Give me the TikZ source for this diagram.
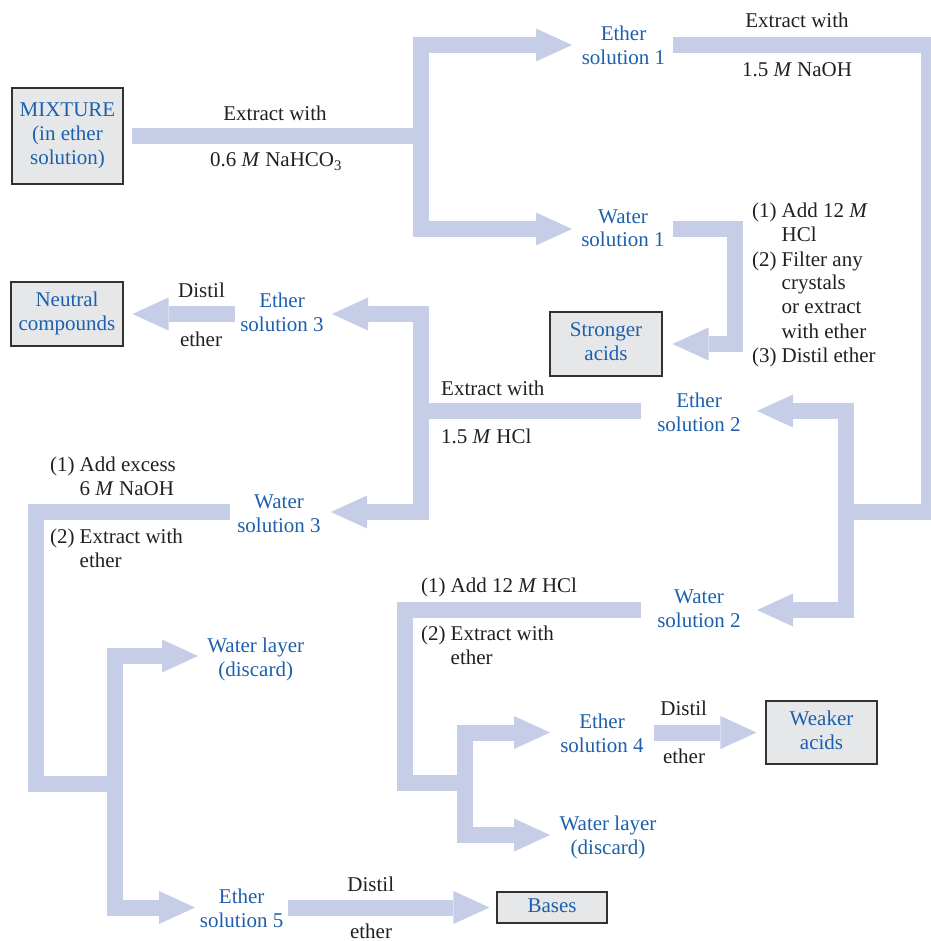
\documentclass[tikz,border=0pt]{standalone}
\usepackage{fontspec}
\setmainfont{Liberation Serif}
\usetikzlibrary{arrows.meta}

\definecolor{ductcol}{RGB}{198,205,230}
\definecolor{labelblue}{RGB}{28,96,172}
\definecolor{ink}{RGB}{35,31,32}
\definecolor{boxfill}{RGB}{230,231,233}
\definecolor{boxline}{RGB}{50,50,50}

% stacked lines; the baseline is that of the first line
\newcommand\stk[1]{\begin{tabular}[t]{@{}c@{}}#1\end{tabular}}
% numbered step with hanging lines
\newcommand\stepl[1]{\begin{tabular}[t]{@{}l@{\hspace{5pt}}l@{}}#1\end{tabular}}

\tikzset{
  basefont/.style={font=\fontsize{21}{24}\selectfont},
  txt/.style={basefont, text=ink, inner sep=0pt, anchor=base},
  sol/.style={txt, text=labelblue},
  resultbox/.style={basefont, draw=boxline, line width=1.1pt, fill=boxfill,
    text=labelblue, inner sep=0pt, anchor=center},
  duct/.style={draw=ductcol, line width=16pt, line join=miter, line cap=butt},
  ductend/.style={-{Triangle[length=36pt,width=33pt,line width=0pt]}},
  ductboth/.style={{Triangle[length=36pt,width=33pt,line width=0pt]}-{Triangle[length=36pt,width=33pt,line width=0pt]}},
}

\begin{document}
\begin{tikzpicture}[x=1pt,y=-1pt]
\useasboundingbox (0,0) rectangle (930,941);

% ---- result boxes ----
\node[resultbox, minimum width=111pt, minimum height=96pt] (mix) at (67.5,136)
  {\begin{tabular}{@{}c@{}}MIXTURE\\(in ether\\solution)\end{tabular}};
\node[resultbox, minimum width=112pt, minimum height=64pt] (neutral) at (67,314)
  {\begin{tabular}{@{}c@{}}Neutral\\compounds\end{tabular}};
\node[resultbox, minimum width=112pt, minimum height=64pt] (strong) at (606,344)
  {\begin{tabular}{@{}c@{}}Stronger\\acids\end{tabular}};
\node[resultbox, minimum width=111pt, minimum height=63pt] (weak) at (821.5,732.5)
  {\begin{tabular}{@{}c@{}}Weaker\\acids\end{tabular}};
\node[resultbox, minimum width=110pt, minimum height=31pt] (bases) at (552,907.5)
  {\begin{tabular}{@{}c@{}}Bases\end{tabular}};

% ---- solutions ----
\node[sol] (es1) at (623.5,41)  {\stk{Ether\\solution 1}};
\node[sol] (ws1) at (623,223)   {\stk{Water\\solution 1}};
\node[sol] (es2) at (699,407)   {\stk{Ether\\solution 2}};
\node[sol] (ws2) at (699,603)   {\stk{Water\\solution 2}};
\node[sol] (es3) at (282,307)   {\stk{Ether\\solution 3}};
\node[sol] (ws3) at (279,508)   {\stk{Water\\solution 3}};
\node[sol] (es4) at (602,728)   {\stk{Ether\\solution 4}};
\node[sol] (es5) at (241.7,903) {\stk{Ether\\solution 5}};
\node[sol] (wl1) at (255.7,652) {\stk{Water layer\\(discard)}};
\node[sol] (wl2) at (608,830)   {\stk{Water layer\\(discard)}};

% ---- reagents and operations ----
\node[txt] (ext1)  at (275,121) {Extract with};
\node[txt] (conc1) at (276,167) {0.6 \textit{M} NaHCO\textsubscript{3}};
\node[txt] (ext2)  at (797,28)  {Extract with};
\node[txt] (conc2) at (797,77)  {1.5 \textit{M} NaOH};
\node[txt, anchor=base west] (ext3)  at (441,395) {Extract with};
\node[txt, anchor=base west] (conc3) at (441,443) {1.5 \textit{M} HCl};
\node[txt, anchor=base west] (steps1) at (752,218)
  {\stepl{(1) & Add 12 \textit{M}\\ & HCl\\ (2) & Filter any\\ & crystals\\ & or extract\\ & with ether\\ (3) & Distil ether}};
\node[txt, anchor=base west] (steps2a) at (50,471)
  {\stepl{(1) & Add excess\\ & 6 \textit{M} NaOH}};
\node[txt, anchor=base west] (steps2b) at (50,543)
  {\stepl{(2) & Extract with\\ & ether}};
\node[txt, anchor=base west] (steps3a) at (421,592)
  {\stepl{(1) & Add 12 \textit{M} HCl}};
\node[txt, anchor=base west] (steps3b) at (421,640)
  {\stepl{(2) & Extract with\\ & ether}};
\node[txt] (dist1) at (201.5,297) {Distil};
\node[txt] (eth1)  at (201,346)   {ether};
\node[txt] (dist2) at (683.7,715) {Distil};
\node[txt] (eth2)  at (684,763)   {ether};
\node[txt] (dist3) at (370.8,891) {Distil};
\node[txt] (eth3)  at (371,938)   {ether};

% ---- duct ends and junctions ----
\coordinate (j1) at (421,136);
\coordinate (es1-in) at (572,45);   \coordinate (ws1-in) at (572,229);
\coordinate (es1-out) at (673,45);  \coordinate (rc) at (929,512);
\coordinate (j2) at (846,512);
\coordinate (es2-in) at (757,411);  \coordinate (ws2-in) at (757,610);
\coordinate (ws1-out) at (673,229); \coordinate (k1) at (735,344);
\coordinate (es2-out) at (641,411); \coordinate (j3) at (421,411);
\coordinate (es3-in) at (332,314);  \coordinate (ws3-in) at (331,512);
\coordinate (es3-out) at (235,314);
\coordinate (ws3-out) at (230,512); \coordinate (k2) at (36,784);
\coordinate (j4) at (115,784);
\coordinate (wl1-in) at (198,656);  \coordinate (es5-in) at (195,907.5);
\coordinate (es5-out) at (288,907.5);
\coordinate (ws2-out) at (641,610); \coordinate (k3) at (405,783);
\coordinate (j5) at (465,783);
\coordinate (es4-in) at (550,732.5); \coordinate (wl2-in) at (550,835);
\coordinate (es4-out) at (654,732.5);

% ---- ducts ----
\draw[duct] ([xshift=8pt]mix.east) -- (j1);
\draw[duct, ductboth] (es1-in) -| (j1) |- (ws1-in);
\draw[duct] (es1-out) -| (rc) -- (j2);
\draw[duct, ductboth] (es2-in) -| (j2) |- (ws2-in);
\draw[duct, ductend, shorten >=10pt] (ws1-out) -| (k1) -- (strong.east);
\draw[duct] (es2-out) -- (j3);
\draw[duct, ductboth] (es3-in) -| (j3) |- (ws3-in);
\draw[duct, ductend, shorten >=9pt] (es3-out) -- (neutral.east);
\draw[duct] (ws3-out) -| (k2) -- (j4);
\draw[duct, ductboth] (wl1-in) -| (j4) |- (es5-in);
\draw[duct, ductend, shorten >=7pt] (es5-out) -- (bases.west);
\draw[duct] (ws2-out) -| (k3) -- (j5);
\draw[duct, ductboth] (es4-in) -| (j5) |- (wl2-in);
\draw[duct, ductend, shorten >=9pt] (es4-out) -- (weak.west);
\end{tikzpicture}
\end{document}
